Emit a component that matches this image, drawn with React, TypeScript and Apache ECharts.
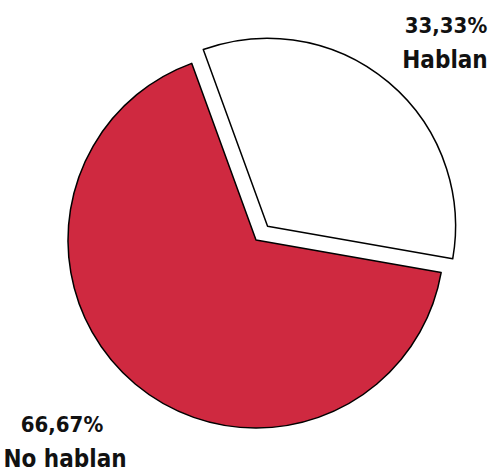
import React, { useEffect, useRef } from "react";
import * as echarts from "echarts";

const categories = ["Hablan", "No hablan"];
const values = [33.33, 66.67];
const colors = ["#ffffff", "#cf2940"];

const fmt = (v: number) => v.toFixed(2).replace(".", ",") + "%";
const FONT = "'DejaVu Sans Condensed', sans-serif";

export default function App() {
  const ref = useRef<HTMLDivElement>(null);
  useEffect(() => {
    document.body.style.margin = "0";
    const chart = echarts.init(ref.current!, undefined, { renderer: "svg" });
    const labelPos = [
      { x: 445, yp: 25, yn: 60, xp: 446 },
      { x: 65, yp: 424, yn: 459, xp: 62 },
    ];
    const graphics: any[] = [];
    categories.forEach((name, i) => {
      const pos = labelPos[i];
      graphics.push({
        type: "text",
        x: pos.xp,
        y: pos.yp,
        style: {
          text: fmt(values[i]),
          fontFamily: FONT,
          fontWeight: "bold",
          fontSize: 22,
          fill: "#111111",
          textAlign: "center",
          textVerticalAlign: "middle",
        },
      });
      graphics.push({
        type: "text",
        x: pos.x,
        y: pos.yn,
        style: {
          text: name,
          fontFamily: FONT,
          fontWeight: "bold",
          fontSize: 24,
          fill: "#111111",
          textAlign: "center",
          textVerticalAlign: "middle",
        },
      });
    });
    chart.setOption({
      animation: false,
      backgroundColor: "#ffffff",
      graphic: graphics,
      series: [
        {
          type: "pie",
          center: [256, 240],
          radius: 188,
          startAngle: 110,
          clockwise: true,
          selectedMode: "single",
          selectedOffset: 18,
          emphasis: { disabled: true },
          itemStyle: { borderColor: "#000000", borderWidth: 1.5 },
          label: { show: false },
          labelLine: { show: false },
          data: categories.map((name, i) => ({
            name,
            value: values[i],
            selected: i === 0,
            itemStyle: { color: colors[i] },
          })),
        },
      ],
    });
    return () => chart.dispose();
  }, []);
  return <div ref={ref} style={{ width: 488, height: 472 }} />;
}
